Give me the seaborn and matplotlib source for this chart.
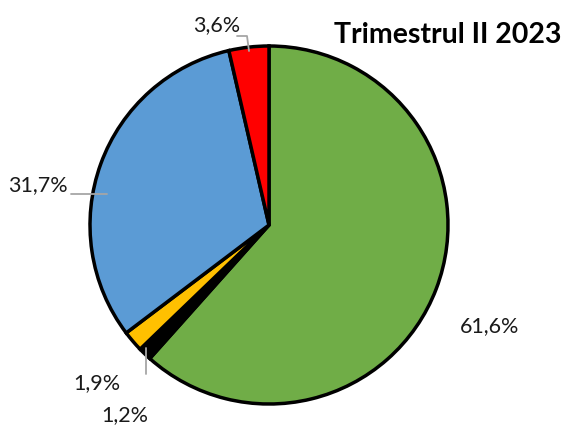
import matplotlib
matplotlib.use("Agg")
import matplotlib.pyplot as plt
import seaborn as sns

# Data (clockwise from 12 o'clock)
categories = ["Verde", "Negru", "Galben", "Albastru", "Roșu"]
values = [61.6, 1.2, 1.9, 31.7, 3.6]
colors = ["#70AD47", "#000000", "#FFC000", "#5B9BD5", "#FF0000"]
title = "Trimestrul II 2023"

sns.set_theme(style="white")
plt.rcParams["font.family"] = ["Lato", "DejaVu Sans"]

W, H = 566, 429
fig = plt.figure(figsize=(W / 100, H / 100), dpi=100)
cx, cy, r = 269, 225, 179
ax = fig.add_axes([(cx - r) / W, (H - cy - r) / H, 2 * r / W, 2 * r / H])

ax.pie(values, colors=colors, startangle=90, counterclock=False, radius=1.0,
       wedgeprops=dict(edgecolor="black", linewidth=2.5))
ax.set_xlim(-1, 1)
ax.set_ylim(-1, 1)
ax.set_aspect("equal")
ax.axis("off")

def px(x, y):
    return (x - cx) / r, (cy - y) / r

label_pos = [(490, 326), (125, 415), (97, 383), (38, 185), (217, 25)]
for v, (lx, ly) in zip(values, label_pos):
    dx, dy = px(lx, ly)
    ax.text(dx, dy, f"{v:.1f}".replace(".", ",") + "%", ha="center", va="center",
            fontsize=15.5, color="#1a1a1a", clip_on=False)

# leader lines
lines = [
    [(237, 36), (247, 36), (249, 51)],
    [(71, 194), (107, 194)],
    [(146, 348), (146, 374)],
]
for pts in lines:
    xs, ys = zip(*[px(a, b) for a, b in pts])
    ax.plot(xs, ys, color="#A6A6A6", lw=1.3, clip_on=False, zorder=5)

fig.text(448 / W, 1 - 35 / H, title, ha="center", va="center",
         fontsize=20.5, fontweight="bold", color="black")

fig.savefig("out.png", dpi=100, facecolor="white")
